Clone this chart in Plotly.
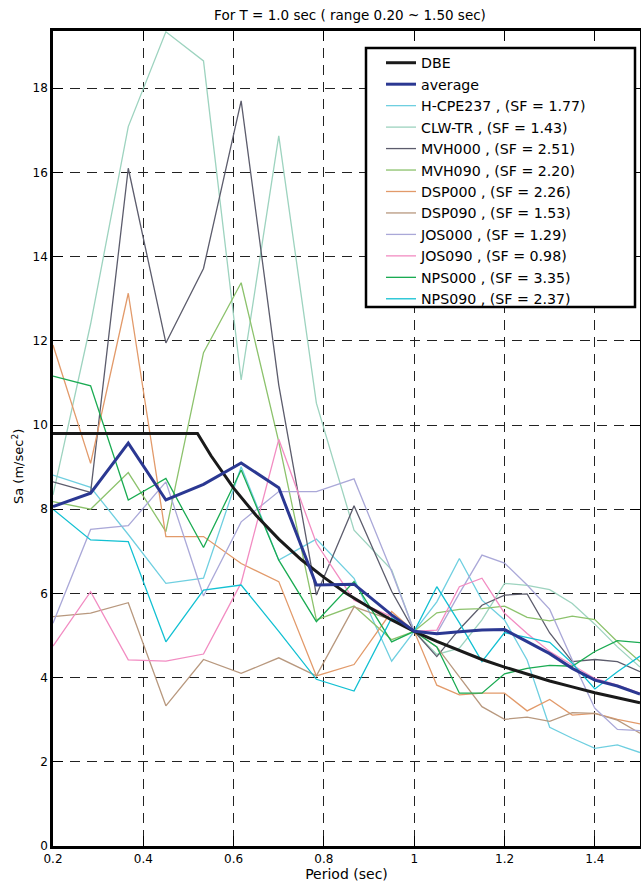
import plotly.graph_objects as go

periods = [0.2, 0.2833, 0.3667, 0.45, 0.5333, 0.6167, 0.7, 0.7833, 0.8667, 0.95,
           1.0, 1.05, 1.1, 1.15, 1.2, 1.25, 1.3, 1.35, 1.4, 1.45, 1.5]

dbe_periods = [0.2, 0.52, 0.55, 0.6, 0.65, 0.7, 0.75, 0.8, 0.85, 0.9, 0.95, 1.0,
               1.05, 1.1, 1.15, 1.2, 1.25, 1.3, 1.35, 1.4, 1.45, 1.5]
dbe_values = [9.8, 9.8, 9.27, 8.5, 7.85, 7.29, 6.8, 6.38, 6.0, 5.67, 5.37, 5.1,
              4.86, 4.64, 4.43, 4.25, 4.08, 3.92, 3.78, 3.64, 3.52, 3.4]

average = [8.06, 8.38, 9.57, 8.22, 8.59, 9.1, 8.51, 6.2, 6.22, 5.49,
           5.1, 5.04, 5.09, 5.13, 5.14, 4.85, 4.57, 4.22, 3.94, 3.80, 3.61]

h_cpe237 = [8.81, 8.52, 7.4, 6.24, 6.36, 9.01, 6.79, 7.29, 6.36, 4.39,
            5.1, 5.8, 6.83, 5.84, 5.37, 4.42, 2.82, 2.56, 2.32, 2.40, 2.22]
clw_tr = [8.34, 12.4, 17.09, 19.34, 18.65, 11.07, 16.87, 10.52, 7.5, 6.56,
          5.1, 4.55, 4.7, 5.37, 6.24, 6.19, 6.09, 5.76, 5.27, 4.73, 4.25]
mvh000 = [8.65, 8.4, 16.1, 11.95, 13.72, 17.7, 10.95, 5.96, 8.08, 6.05,
          5.1, 4.5, 5.15, 5.72, 5.96, 5.99, 5.06, 4.38, 4.43, 4.38, 4.14]
mvh090 = [8.18, 8.0, 8.87, 7.47, 11.72, 13.38, 9.6, 5.37, 5.7, 4.9,
          5.1, 5.54, 5.62, 5.64, 5.70, 5.43, 5.35, 5.46, 5.38, 4.85, 4.38]
dsp000 = [11.9, 9.09, 13.13, 7.35, 7.35, 6.71, 6.28, 4.04, 4.31, 5.57,
          5.1, 3.82, 3.59, 3.63, 3.63, 3.21, 3.48, 3.11, 3.15, 3.01, 2.9]
dsp090 = [5.45, 5.53, 5.78, 3.33, 4.43, 4.1, 4.47, 4.04, 5.68, 5.37,
          5.1, 4.73, 4.02, 3.31, 3.01, 3.06, 2.96, 3.17, 3.15, 2.99, 2.68]
jos000 = [5.29, 7.52, 7.61, 8.65, 5.94, 7.7, 8.42, 8.42, 8.72, 6.52,
          5.1, 5.05, 6.0, 6.91, 6.72, 6.2, 5.62, 4.42, 3.27, 2.77, 2.74]
jos090 = [4.75, 6.04, 4.42, 4.39, 4.56, 6.25, 9.66, 7.19, 5.84, 5.45,
          5.1, 5.13, 6.16, 6.36, 5.53, 5.05, 4.62, 4.30, 3.98, 3.82, 3.63]
nps000 = [11.16, 10.93, 8.22, 8.73, 7.09, 8.93, 6.79, 5.33, 6.28, 4.85,
          5.1, 4.73, 3.63, 3.63, 4.09, 4.22, 4.29, 4.27, 4.62, 4.88, 4.83]
nps090 = [8.0, 7.27, 7.23, 4.85, 6.08, 6.2, 5.1, 3.96, 3.68, 5.42,
          5.1, 6.16, 5.3, 4.38, 5.07, 4.96, 4.84, 4.34, 3.73, 4.14, 4.51]

records = [
    ("H-CPE237 , (SF = 1.77)", h_cpe237, "#6fcfe0"),
    ("CLW-TR , (SF = 1.43)", clw_tr, "#9dd3bf"),
    ("MVH000 , (SF = 2.51)", mvh000, "#5c5c6c"),
    ("MVH090 , (SF = 2.20)", mvh090, "#8cc26c"),
    ("DSP000 , (SF = 2.26)", dsp000, "#e29a6a"),
    ("DSP090 , (SF = 1.53)", dsp090, "#b8987e"),
    ("JOS000 , (SF = 1.29)", jos000, "#aaa8d8"),
    ("JOS090 , (SF = 0.98)", jos090, "#f28cc2"),
    ("NPS000 , (SF = 3.35)", nps000, "#1aab52"),
    ("NPS090 , (SF = 2.37)", nps090, "#12c0d2"),
]

x_ticks = [0.2, 0.4, 0.6, 0.8, 1.0, 1.2, 1.4]
x_tick_labels = ["0.2", "0.4", "0.6", "0.8", "1", "1.2", "1.4"]
y_ticks = [0, 2, 4, 6, 8, 10, 12, 14, 16, 18]

fig = go.Figure()
for i, (name, vals, col) in enumerate(records):
    fig.add_trace(go.Scatter(x=periods, y=vals, mode="lines", name=name,
                             line=dict(color=col, width=1.3), legendrank=10 + i))
fig.add_trace(go.Scatter(x=dbe_periods, y=dbe_values, mode="lines", name="DBE",
                         line=dict(color="#1a1a1a", width=3), legendrank=1))
fig.add_trace(go.Scatter(x=periods, y=average, mode="lines", name="average",
                         line=dict(color="#2b3892", width=3), legendrank=2))

font = "DejaVu Sans, Verdana, sans-serif"
L, R, T, B = 53, 641 - 640, 31, 884 - 846
pw, ph = 641 - L - R, 884 - T - B


def px_x(p):
    return (p - L) / pw


def px_y(p):
    return (884 - B - p) / ph


fig.update_layout(
    width=641, height=884,
    margin=dict(l=L, r=R, t=T, b=B, autoexpand=False),
    paper_bgcolor="white", plot_bgcolor="white",
    font=dict(family=font, size=11.5, color="black"),
    title=dict(text="For T = 1.0 sec ( range 0.20 ~ 1.50 sec)", x=px_x(350), xanchor="center",
               y=(884 - 15) / 884, yanchor="middle", xref="paper", yref="container",
               font=dict(size=13.5)),
    showlegend=True,
    legend=dict(x=px_x(381), y=px_y(47), xanchor="left", yanchor="top",
                bgcolor="rgba(0,0,0,0)", borderwidth=0,
                font=dict(size=14.2), tracegroupgap=0),
    shapes=[dict(type="rect", xref="paper", yref="paper", layer="above",
                 x0=px_x(366), x1=px_x(635), y0=px_y(307), y1=px_y(48),
                 fillcolor="white", line=dict(color="black", width=2.5))],
    annotations=[dict(text="Sa (m/sec<sup>2</sup>)", xref="paper", yref="paper",
                      x=px_x(18), y=px_y(467), textangle=-90, showarrow=False,
                      xanchor="center", yanchor="middle", font=dict(size=13))],
    xaxis=dict(range=[0.2, 1.5], tickvals=x_ticks, ticktext=x_tick_labels, automargin=False,
               showgrid=True, gridcolor="#222", gridwidth=1, griddash="10px,7px",
               zeroline=False, showline=True, linecolor="black", linewidth=2.5,
               mirror="allticks", ticks="inside", ticklen=10, tickcolor="black",
               tickfont=dict(size=12),
               title=dict(text="Period (sec)", standoff=2, font=dict(size=14))),
    yaxis=dict(range=[0, 19.36], tickvals=y_ticks, automargin=False,
               showgrid=True, gridcolor="#222", gridwidth=1, griddash="10px,7px",
               zeroline=False, showline=True, linecolor="black", linewidth=2.5,
               mirror="allticks", ticks="inside", ticklen=10, tickcolor="black",
               tickfont=dict(size=12)),
)
fig.write_html("out.html", config={"displayModeBar": False},
               post_script="document.body.style.margin='0px';")
